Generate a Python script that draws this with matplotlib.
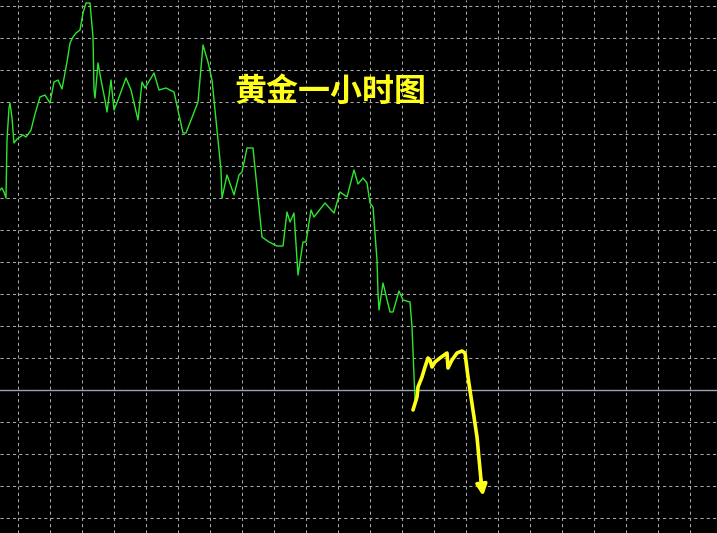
import numpy as np
import matplotlib
matplotlib.use("Agg")
import matplotlib.pyplot as plt

plt.rcParams['font.family'] = ['Noto Sans CJK SC', 'DejaVu Sans']

# hourly gold price trace (bar position, level on screen scale, top = 0)
bar = [0, 2, 4, 6, 7, 9, 10, 12, 14, 17, 20, 23, 26, 29, 31, 35, 40, 45, 50, 54,
       58, 62, 67, 70, 73, 76, 80, 83, 86, 90, 93, 94, 95, 98, 101, 105, 107, 111,
       114, 118, 126, 131, 138, 142, 145, 154, 159, 166, 174, 183, 186, 198, 203,
       208, 212, 221, 222, 227, 234, 239, 242, 247, 253, 262, 269, 277, 283, 287,
       290, 294, 298, 303, 306, 311, 314, 325, 334, 340, 347, 354, 358, 363, 367,
       370, 373, 377, 378, 379, 383, 390, 393, 399, 403, 410, 412, 415]
level = [190, 188, 192, 198, 140, 108, 103, 118, 143, 139, 137, 135, 137, 133, 130,
         114, 97, 95, 103, 82, 80, 89, 62, 43, 37, 33, 30, 13, 3, 3, 37, 90, 98, 63,
         80, 100, 112, 80, 110, 100, 78, 90, 120, 82, 88, 73, 90, 88, 92, 133, 133,
         102, 45, 62, 80, 170, 198, 175, 195, 175, 172, 148, 148, 237, 242, 246, 246,
         212, 222, 213, 275, 242, 242, 210, 217, 203, 213, 192, 197, 170, 184, 178,
         183, 203, 207, 260, 293, 310, 283, 312, 312, 291, 300, 302, 327, 400]

# hand drawn forecast
fc_bar = [413, 417, 418, 422, 425, 428, 430, 432, 435, 440, 447, 448, 452, 457,
          462, 465, 468, 477, 481]
fc_level = [410, 397, 387, 377, 367, 358, 360, 367, 362, 358, 353, 368, 360, 353,
            351, 353, 377, 437, 480]
arrow_tip = (483, 496)

ref_level = 390
title = "黄金一小时图"

fig = plt.figure(figsize=(7.17, 5.33), dpi=100, facecolor='black')
ax = fig.add_axes([0, 0, 1, 1])
ax.set_facecolor('black')
ax.set_xlim(0, 717)
ax.set_ylim(533, 0)

ax.set_xticks(np.arange(18, 717, 32))
ax.set_yticks(np.arange(6, 533, 32))
ax.grid(True, color='#a8a8a8', linestyle=(0, (3, 3)), linewidth=0.75)
ax.tick_params(length=0, labelbottom=False, labelleft=False)
for s in ax.spines.values():
    s.set_visible(False)

ax.axhline(ref_level, color='#9aa2b2', linewidth=1.0, zorder=3)

ax.plot(bar, level, color='#2ee62e', linewidth=1.0, zorder=4)

ax.plot(fc_bar, fc_level, color='#ffff1a', linewidth=2.6,
        solid_capstyle='round', solid_joinstyle='round', zorder=5)
ax.annotate('', xy=arrow_tip, xytext=(fc_bar[-1], fc_level[-1]),
            arrowprops=dict(arrowstyle='-|>', color='#ffff1a', lw=2.6,
                            mutation_scale=16, shrinkA=0, shrinkB=0),
            zorder=5)

ax.text(330, 92, title, color='#ffff1a', fontsize=23, fontweight='bold',
        ha='center', va='center', zorder=6)

fig.savefig('out.png', dpi=100, facecolor='black')
